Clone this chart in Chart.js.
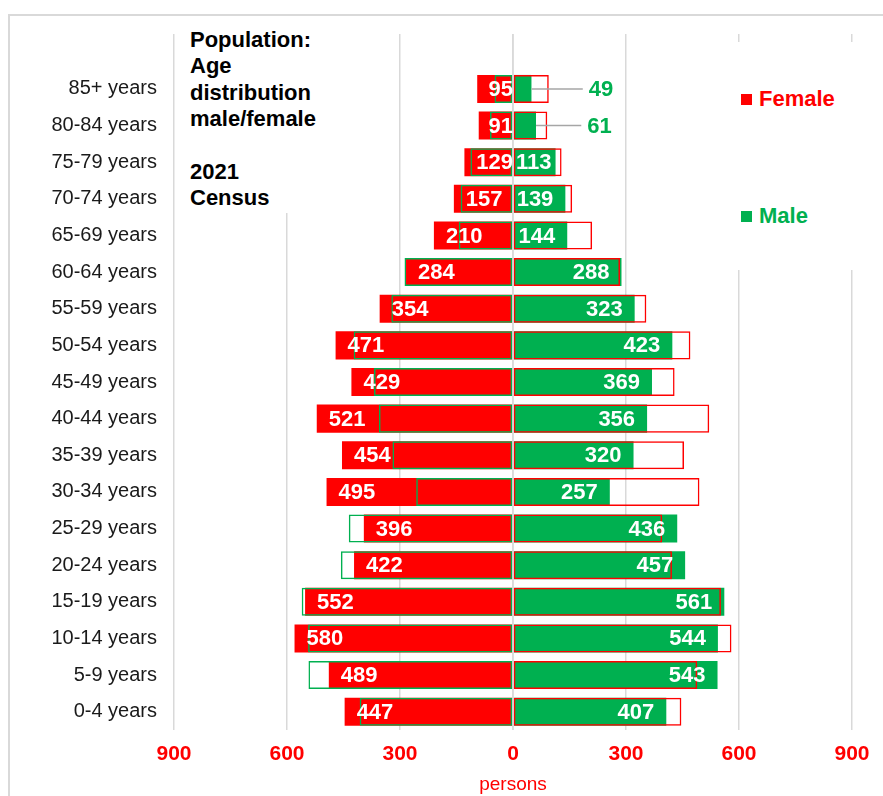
<!DOCTYPE html>
<html>
<head>
<meta charset="utf-8">
<title>Population: Age distribution male/female - 2021 Census</title>
<script src="https://cdn.jsdelivr.net/npm/chart.js@4.4.1/dist/chart.umd.min.js"></script>
<style>
  html, body { margin: 0; padding: 0; background: #fff; overflow: hidden; }
  #wrap { position: relative; width: 883px; height: 796px; overflow: hidden; }
  #frame { position: absolute; left: 8px; top: 14px; width: 900px; height: 900px; border: 2px solid #d9d9d9; }
  #chart { position: absolute; left: 0; top: 0; }
  #title {
    position: absolute; left: 178px; top: 27px; width: 215px; height: 186px;
    padding-left: 12px; box-sizing: border-box; background: #fff;
    font: bold 22px/26.4px "Liberation Sans", Arial, sans-serif; color: #000;
    white-space: pre-line;
  }
  #legend {
    position: absolute; left: 730px; top: 42px; width: 135px; height: 228px; background: #fff;
    font: bold 22px/26px "Liberation Sans", Arial, sans-serif;
  }
  .item { position: absolute; left: 11px; display: flex; align-items: center; height: 26px; }
  .swatch { width: 11px; height: 11px; margin-right: 7px; }
</style>
</head>
<body>
<div id="wrap">
  <div id="frame"></div>
  <canvas id="chart" width="883" height="796"></canvas>
  <div id="title">Population:
Age
distribution
male/female

2021
Census</div>
  <div id="legend">
    <div class="item" style="top: 44px; color: #ff0000;"><span class="swatch" style="background: #ff0000;"></span>Female</div>
    <div class="item" style="top: 161px; color: #00b050;"><span class="swatch" style="background: #00b050;"></span>Male</div>
  </div>
</div>
<script>
// age groups, top to bottom
const ageGroups = ['85+ years', '80-84 years', '75-79 years', '70-74 years', '65-69 years',
    '60-64 years', '55-59 years', '50-54 years', '45-49 years', '40-44 years', '35-39 years',
    '30-34 years', '25-29 years', '20-24 years', '15-19 years', '10-14 years', '5-9 years', '0-4 years'];
const female = [95, 91, 129, 157, 210, 284, 354, 471, 429, 521, 454, 495, 396, 422, 552, 580, 489, 447];
const male = [49, 61, 113, 139, 144, 288, 323, 423, 369, 356, 320, 257, 436, 457, 561, 544, 543, 407];
const xTicks = [-900, -600, -300, 0, 300, 600, 900];

const RED = '#ff0000';
const GREEN = '#00b050';
const FONT = '"Liberation Sans", Arial, sans-serif';

// empty row on top leaves room for the title
const labels = [''].concat(ageGroups);
const pad = arr => [null].concat(arr);

const barLabels = {
    id: 'barLabels',
    afterDatasetsDraw(chart) {
        const { ctx, chartArea, scales: { x } } = chart;
        const zero = x.getPixelForValue(0);
        ctx.save();

        // zero line sits on top of the bars
        ctx.strokeStyle = '#d9d9d9';
        ctx.lineWidth = 1.5;
        ctx.beginPath();
        ctx.moveTo(zero, chartArea.top);
        ctx.lineTo(zero, chartArea.bottom);
        ctx.stroke();

        ctx.font = 'bold 22px ' + FONT;
        ctx.textBaseline = 'middle';
        const femaleBars = chart.getDatasetMeta(2).data;
        const maleBars = chart.getDatasetMeta(3).data;
        const femaleMirror = chart.getDatasetMeta(1).data;

        female.forEach((v, i) => {
            const bar = femaleBars[i + 1];
            const txt = String(v);
            const w = ctx.measureText(txt).width;
            let left = bar.x + 12;
            if (left + w > zero) left = zero - w;
            ctx.fillStyle = '#fff';
            ctx.textAlign = 'left';
            ctx.fillText(txt, left, bar.y + 1);
        });

        male.forEach((v, i) => {
            const bar = maleBars[i + 1];
            const txt = String(v);
            const w = ctx.measureText(txt).width;
            if (bar.x - zero < w + 4) {
                // too short: label outside with a leader line
                const outer = Math.max(bar.x, femaleMirror[i + 1].x);
                const lx = outer + 40;
                ctx.strokeStyle = '#a6a6a6';
                ctx.lineWidth = 1.5;
                ctx.beginPath();
                ctx.moveTo(bar.x, bar.y);
                ctx.lineTo(lx - 6, bar.y);
                ctx.stroke();
                ctx.fillStyle = GREEN;
                ctx.textAlign = 'left';
                ctx.fillText(txt, lx, bar.y + 1);
            } else {
                let right = bar.x - 12;
                if (right - w < zero + 3) right = zero + 3 + w;
                ctx.fillStyle = '#fff';
                ctx.textAlign = 'right';
                ctx.fillText(txt, right, bar.y + 1);
            }
        });
        ctx.restore();
    }
};

const barStyle = { barPercentage: 0.765, categoryPercentage: 1, grouped: false };

new Chart(document.getElementById('chart'), {
    type: 'bar',
    data: {
        labels: labels,
        datasets: [
            // outlines first so they are drawn on top of the fills
            Object.assign({
                label: 'Male (mirror)',
                data: pad(male.map(v => -v)),
                backgroundColor: 'transparent',
                borderColor: GREEN,
                borderWidth: 1.5,
                borderSkipped: false
            }, barStyle),
            Object.assign({
                label: 'Female (mirror)',
                data: pad(female),
                backgroundColor: 'transparent',
                borderColor: RED,
                borderWidth: 1.5,
                borderSkipped: false
            }, barStyle),
            Object.assign({
                label: 'Female',
                data: pad(female.map(v => -v)),
                backgroundColor: RED,
                borderWidth: 0
            }, barStyle),
            Object.assign({
                label: 'Male',
                data: pad(male),
                backgroundColor: GREEN,
                borderWidth: 0
            }, barStyle)
        ]
    },
    options: {
        indexAxis: 'y',
        responsive: false,
        animation: false,
        layout: { padding: { top: 34, right: 31, bottom: 0, left: 0 } },
        scales: {
            x: {
                type: 'linear',
                min: -900,
                max: 900,
                afterBuildTicks: s => { s.ticks = xTicks.map(v => ({ value: v })); },
                afterFit: s => { s.height = 66; },
                grid: { color: '#d9d9d9', lineWidth: 1.5, drawTicks: false },
                border: { display: false },
                ticks: {
                    callback: v => Math.abs(v),
                    color: RED,
                    font: { family: FONT, size: 21, weight: 'bold' },
                    padding: 12,
                    maxRotation: 0,
                    autoSkip: false
                },
                title: {
                    display: true,
                    text: 'persons',
                    color: RED,
                    font: { family: FONT, size: 19 },
                    padding: { top: 0, bottom: 0 }
                }
            },
            y: {
                afterFit: s => { s.width = 174; },
                grid: { display: false, drawTicks: false },
                border: { display: false },
                ticks: {
                    color: '#1a1a1a',
                    font: { family: FONT, size: 20 },
                    padding: 17,
                    autoSkip: false
                }
            }
        },
        plugins: {
            legend: { display: false },
            tooltip: { enabled: false }
        }
    },
    plugins: [barLabels]
});
</script>
</body>
</html>
